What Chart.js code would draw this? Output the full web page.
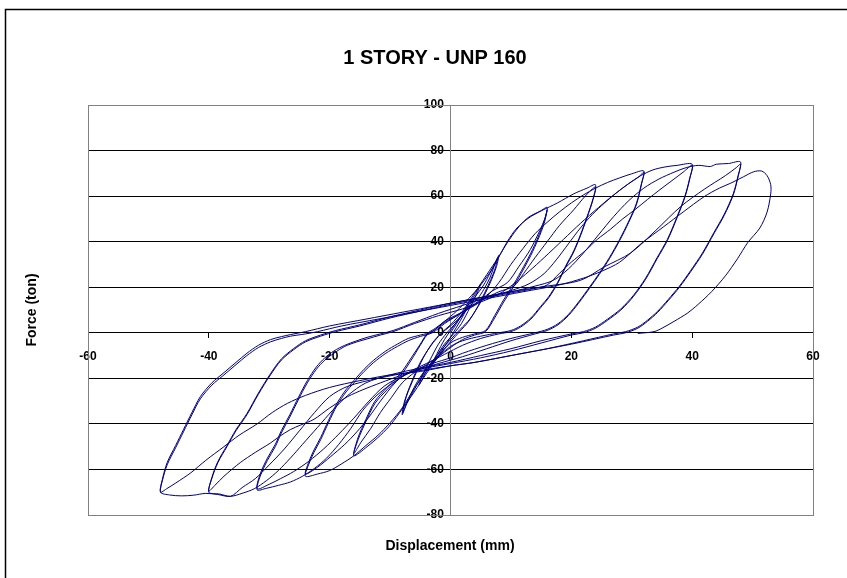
<!DOCTYPE html>
<html>
<head>
<meta charset="utf-8">
<script src="https://cdn.jsdelivr.net/npm/chart.js@4.4.1/dist/chart.umd.min.js"></script>
<style>
  body { margin: 0; background: #fff; }
  #chart { display: block; }
</style>
</head>
<body>
<canvas id="chart" width="847" height="578"></canvas>
<script>
// axis ticks
const xTicks = [-60, -40, -20, 0, 20, 40, 60];
const yTicks = [-80, -60, -40, -20, 0, 20, 40, 60, 80, 100];

// [displacement mm, force ton], one array per amplitude step
const loopsSmall = [
  [0,0],[1,4],[2,8.5],[3,12.5],[2.2,8],[1,2.5],[0,-2],[-1,-6],[-2,-10],[-3,-13.5],[-2.2,-9],[-1,-3],[0,1],
  [1.2,5.5],[2.5,10.5],[4,16.5],[5,21.5],[4.5,18],[3.2,11],[1.8,4],[0.5,-0.5],[-1,-5],[-2.5,-11],[-4,-17],
  [-5.2,-23],[-4.7,-19],[-3.4,-12],[-2,-5],[-0.6,0],[0.8,4]
];
const loops8 = [
  [2.5,9.5],[4,15.5],[5.5,21],[6.5,26],[7.4,30.5],[8,34],[7.6,29],[6.5,21.5],[5,13.5],[3.2,6],[1.6,1.5],[0,-3],
  [-1.5,-7.5],[-3,-12.5],[-4.5,-18],[-6,-25],[-7.2,-31],[-8,-36],[-7.6,-30],[-6.5,-22],[-5,-13],[-3.2,-5.5],[-1.6,-0.5],[0,3],
  [1.5,6.5],[3,11],[4.5,15],[5.5,19],[6.5,24],[7.2,29],[7.8,33],[7.3,27.5],[6,19.5],[4.5,11.5],[3,5],[1.5,0.5],[0,-4],
  [-1.5,-8.5],[-3,-13],[-4.5,-17.5],[-5.5,-21.5],[-6.5,-26.5],[-7.3,-31],[-7.9,-35],[-7.3,-28],[-6,-19.5],[-4.5,-11],[-3,-4.5],[-1.5,0],[0,3.5]
];
const loops16 = [
  [2,9.5],[4,17.5],[6,25.5],[8,33.5],[9.4,39.5],[11,45.5],[12.8,50.5],[14.9,53.5],[16,55],
  [15.5,49],[14.5,42],[13.3,35],[12.1,29],[10.5,21.5],[8.8,14.5],[7.3,7.5],[5.8,1],[4,-0.5],[2,-2],[0,-4.5],
  [-2,-10.5],[-4,-18],[-6,-26],[-8,-33.5],[-9.8,-40],[-11.6,-45],[-13.8,-50],[-16,-54],
  [-15.3,-47],[-14,-39],[-12.5,-31],[-10.5,-25],[-8.3,-19],[-6.5,-12],[-5,-5.5],[-3.9,-1],[-2.5,1.5],
  [-1,4.5],[1,7.5],[3,11],[5,14.5],[7,18.5],[9.4,22],[11.3,29],[13.2,36.5],[14.8,45],[15.6,50],[16,54],
  [15.5,48],[14.5,41],[13.3,34],[12.1,28],[10.5,20.5],[8.8,13.5],[7.3,6.5],[5.8,0.5],[4,-1],[2,-3],[0,-6.5],
  [-2,-10.5],[-4,-14],[-6,-17.5],[-8,-22],[-9.8,-28.5],[-11.6,-35],[-13.2,-42],[-14.8,-48],[-16,-53],
  [-15.3,-46],[-14,-38],[-12.5,-30],[-10.5,-24],[-8.3,-18],[-6.5,-11],[-5,-5],[-3.9,-0.5],[-2.5,2]
];
const loops24 = [
  [-1,5],[1,9.5],[3,15],[5,21],[7,28.5],[9.4,40],[11,46],[13,50.5],[15,53.5],[17.7,57],[20.4,61],[22.6,63.5],[24,65],
  [23.6,59],[22.6,51],[21.5,43],[20.4,36],[19,29],[17.7,22],[16.3,16],[14.9,11.5],[13.3,6.5],[11.6,3],[10,1],[8,0],
  [5,-1.5],[2,-3.5],[0,-6],[-2,-10.5],[-4,-17],[-6,-24.5],[-8,-33],[-10,-39.5],[-12,-45],[-14,-49.5],[-16,-54],
  [-18,-57.5],[-20,-60.5],[-22,-62],[-24,-63],
  [-23.5,-58],[-22.6,-52.5],[-21.5,-47],[-20.2,-39.5],[-18.8,-32],[-17.3,-26],[-16,-22],[-14.3,-17],[-12.7,-13],
  [-10.7,-9],[-8.8,-6],[-7,-3.5],[-5,-1.6],[-3,0],
  [-1,4],[2,9],[5,14],[8,18],[10.5,20.5],[12.1,26],[14,33],[16,40],[18,47],[20.4,54],[22.3,60],[24,64],
  [23.6,58.5],[22.6,50.5],[21.5,42.5],[20.4,35.5],[19,28.5],[17.7,21.5],[16.3,15.5],[14.9,11],[13.3,6],[11.6,2.5],[10,0.5],[8,-0.5],
  [5,-2.5],[2,-5.5],[-1,-9.5],[-4,-13.5],[-7,-17.5],[-9,-21.5],[-11.6,-30],[-13.5,-37],[-15.5,-43.5],[-17.5,-49],
  [-19.9,-54.5],[-22,-59],[-24,-62],
  [-23.5,-57],[-22.6,-51.5],[-21.5,-46],[-20.2,-38.5],[-18.8,-31],[-17.3,-25],[-16,-21],[-14.3,-16],[-12.7,-12],
  [-10.7,-8],[-8.8,-5],[-7,-2.5],[-5,-1],[-3,0.5]
];
const loops32 = [
  [-1,5],[1.5,8.5],[4,12],[6,16],[8,22],[10,30],[12,37],[14,43.5],[16,48.5],[18,53],[20,57],[22,60.5],[24,63.5],
  [26,66],[28,68],[30,69.8],[32,71],
  [31.6,65.5],[30.8,57],[29.5,49],[28,41],[26.3,33],[24.6,26],[23,20],[21.2,13.5],[19.5,8],[17.8,4],[16,1.5],[14,0],
  [10,-2.5],[6,-5.5],[2,-9],[0,-11],[-3,-13.5],[-6,-16.5],[-9,-21],[-12,-27],[-14.5,-34],[-16.5,-42],[-18.5,-49],
  [-20.5,-55],[-22.5,-59.5],[-24.5,-63],[-26.5,-65.5],[-28.5,-67],[-30.5,-68.3],[-32,-69],
  [-31.5,-63],[-30.3,-56],[-29,-50],[-28,-44],[-26.6,-37],[-25.2,-29.5],[-23.7,-22],[-22.2,-16],[-20.8,-12],
  [-19.3,-9],[-17.5,-6],[-15.5,-4],[-13.8,-2.7],[-11.6,-1],[-9.5,0.5],
  [-6,4],[-2,7.5],[2,10.5],[5,13.5],[8,17],[10.5,21.5],[13,27],[15.5,33],[18.7,41],[21.5,48],[24.5,55],[27,60.5],
  [29.5,65.5],[31.2,68.5],[32,70.5],
  [31.6,65],[30.8,56.5],[29.5,48.5],[28,40.5],[26.3,32.5],[24.6,25.5],[23,19.5],[21.2,13],[19.5,7.5],[17.8,3.5],[16,1],[14,-0.5],
  [10,-3.5],[6,-7],[2,-10.5],[-2,-13.5],[-5,-16],[-8,-19],[-11,-23.5],[-13.5,-30],[-16,-37.5],[-18.5,-44.5],[-21,-51],
  [-23.5,-56.5],[-26,-61],[-28.1,-64],[-30,-66.5],[-32,-68.5],
  [-31.5,-62],[-30.3,-55],[-29,-49],[-28,-43],[-26.6,-36],[-25.2,-28.5],[-23.7,-21],[-22.2,-15],[-20.8,-11],
  [-19.3,-8],[-17.5,-5.5],[-15.5,-3.5],[-13.8,-2],[-11.6,-0.5],[-9.5,1]
];
const loops40 = [
  [-6,4.5],[-2,8.5],[2,12],[6,15.5],[10,18.5],[13,21.5],[15.5,26],[17.5,32],[19.5,39],[21.5,46],[23.5,52],[25.5,57],
  [27.5,61.5],[29.5,65.5],[31.5,69],[33.5,71.5],[35.5,72.8],[37.5,73.5],[40,74],
  [39.6,68],[38.8,60],[37.5,51],[35.9,41],[34.2,33],[32.3,24],[30.3,16.5],[28.2,10.5],[26,6],[24,2.5],[22,0.5],[20,-0.5],
  [15,-3.5],[10,-7],[5,-10],[0,-13],[-5,-15.5],[-10,-18.5],[-14,-22],[-17,-27.5],[-19.5,-34],[-22,-41.5],[-24.5,-49],
  [-26.5,-55],[-28.5,-60.5],[-30.5,-65],[-32.5,-68.5],[-34.5,-70.5],[-36.4,-71.8],[-38.2,-70.8],[-40,-70],
  [-39.5,-64],[-38.5,-57],[-37,-50],[-35.5,-43],[-33.7,-36],[-31.8,-27],[-29.8,-18.5],[-28,-12],[-26,-7.5],[-24,-4],
  [-21.5,-1.5],[-19,0.5],
  [-15,3],[-10,6.5],[-5,9.5],[0,12.5],[5,15],[10,17.5],[14,19.5],[16,21],[18,26],[20,31],[22.3,36],[24.3,41],[26.5,45.5],
  [28.5,50],[30.5,54],[32.6,58.5],[34.5,62.5],[36.5,66.5],[38.5,70.5],[40,73.5],
  [39.6,67.5],[38.8,59.5],[37.5,50.5],[35.9,40.5],[34.2,32.5],[32.3,23.5],[30.3,16],[28.2,10],[26,5.5],[24,2],[22,0],[20,-1],
  [15,-4.5],[10,-8],[5,-11],[0,-13.5],[-5,-16],[-8,-18.5],[-11.6,-22],[-14.5,-25],[-17,-28],[-20,-33],[-22.6,-38],
  [-24.8,-40.5],[-26.5,-42.5],[-28.3,-45.5],[-29.8,-48.4],[-32.3,-52.5],[-34.8,-57],[-37.5,-63],[-39,-67],[-40,-69.5],
  [-39.5,-63.5],[-38.5,-56.5],[-37,-49.5],[-35.5,-42.5],[-33.7,-35.5],[-31.8,-26.5],[-29.8,-18],[-28,-11.5],[-26,-7],
  [-24,-3.5],[-21.5,-1],[-19,1]
];
const loops48 = [
  [-15,3.5],[-10,7],[-5,10],[0,13],[5,15.5],[10,18],[14,20.5],[17,23],[19.5,28],[22,35],[24.5,43],[27,51],[29.5,58],
  [32,63.5],[34.5,67.5],[37,70.5],[39,72.5],[41,73.5],[43,73],[44,74],[46,74.3],[48,75],
  [47.6,69],[46.8,61],[45.3,52],[43.6,44],[41.7,35],[39.8,27.5],[37.9,20.5],[36,14.5],[34.3,9.5],[32.6,5.5],[31,2.5],
  [29,0.5],[27,-0.5],
  [22,-3.5],[16,-7],[10,-10],[4,-13],[0,-14.5],[-6,-17],[-12,-20],[-17,-23.5],[-20,-28],[-22.5,-35],[-25,-43],
  [-27.5,-51],[-30,-58],[-32.3,-64],[-34.5,-68],[-36.4,-71.8],[-38.5,-71],[-40.5,-70.5],[-42.5,-71.3],[-44.5,-71.6],
  [-46.5,-71.2],[-48,-70],
  [-47.7,-64.5],[-46.9,-57],[-45.5,-49.5],[-44.2,-42.5],[-42.8,-35],[-41.4,-28],[-39.5,-22],[-37.5,-17.5],[-35.5,-13],
  [-33.7,-9],[-31.8,-5.5],[-29.8,-3],[-28,-1.7],[-26.5,-0.8],[-24,0.5],
  [-20,3],[-14,6],[-8,9],[-2,12],[4,15],[10,18],[16,20.5],[21.5,23],[25.5,29],[29.8,35],[34,45],[38.1,55.4],[42,63],
  [45.5,69],[47.3,72.5],[48,74],
  [47.6,68.5],[46.8,60.5],[45.3,51.5],[43.6,43.5],[41.7,34.5],[39.8,27],[37.9,20],[36,14],[34.3,9],[32.6,5],[31,2],
  [29,0],[27,-1],
  [20,-5],[12,-9],[4,-13],[0,-14.5],[-5,-17],[-10,-18.5],[-15,-21],[-20,-24],[-24,-27.5],[-27,-31],[-29.5,-35],[-32,-40],
  [-35,-45],[-37.5,-50],[-40.5,-56],[-43,-61.5],[-45.5,-66],[-47,-68.5],[-48,-70],
  [-47.7,-65],[-46.9,-58],[-45.5,-50.5],[-44.2,-43.5],[-42.8,-36],[-41.4,-29],[-39.5,-23],[-37.5,-18.5],[-35.5,-14],
  [-33.7,-10],[-31.8,-6.5],[-29.8,-4],[-28,-2.5],[-26.5,-1.5],[-24,-0.5],[-22,0.5]
];
const loopFinal = [
  [-18,3],[-12,6],[-6,9],[0,12],[6,15],[12,18],[18,21],[22,24],[25,27],[28,31],[31.5,39],[35.3,46.6],[38.5,53],
  [42,59.8],[44.5,63.5],[46.4,65.7],[48.5,68.5],[50.2,70.7],[51.5,71],[52.4,69],[53,65],[53,61],[52.4,53],[51.2,46],
  [49.2,39.6],[47.5,32.5],[45.5,25],[43.2,18],[41,12.5],[39.2,8.6],[37,5],[35,2],[33.7,0.5],[31,-0.3]
];

const history = [].concat(loopsSmall, loops8, loops16, loops24, loops32, loops40, loops48, loopFinal)
  .map((p) => ({ x: p[0], y: p[1] }));

const tickFont = { family: "'Liberation Sans', Arial, sans-serif", size: 12, weight: "bold" };

//frame, titles and plot border
const framePlugin = {
  id: "frame",
  beforeDraw(chart) {
    const c = chart.ctx;
    c.save();
    c.fillStyle = "#fff";
    c.fillRect(0, 0, chart.width, chart.height);
    c.strokeStyle = "#000";
    c.lineWidth = 1.5;
    c.beginPath();
    c.moveTo(5.5, chart.height);
    c.lineTo(5.5, 9.5);
    c.lineTo(chart.width, 9.5);
    c.stroke();
    c.fillStyle = "#000";
    c.textAlign = "center";
    c.textBaseline = "middle";
    c.font = "bold 20px 'Liberation Sans', Arial, sans-serif";
    c.fillText("1 STORY - UNP 160", 435, 58);
    c.font = "bold 14px 'Liberation Sans', Arial, sans-serif";
    c.fillText("Displacement (mm)", 450, 546);
    c.translate(32, 310);
    c.rotate(-Math.PI / 2);
    c.fillText("Force (ton)", 0, 0);
    c.restore();
  },
  beforeDatasetsDraw(chart) {
    const { left, top, right, bottom } = chart.chartArea;
    const c = chart.ctx;
    c.save();
    c.strokeStyle = "#808080";
    c.lineWidth = 1;
    c.strokeRect(Math.round(left) + 0.5, Math.round(top) + 0.5, Math.round(right - left), Math.round(bottom - top));
    c.restore();
  }
};

const ctx = document.getElementById("chart");
new Chart(ctx, {
  type: "scatter",
  data: {
    datasets: [
      {
        label: "Force",
        data: history,
        showLine: true,
        borderColor: "#000080",
        borderWidth: 1,
        pointRadius: 0,
        tension: 0.3,
        fill: false,
      },
    ],
  },
  options: {
    responsive: false,
    animation: false,
    layout: { padding: { left: 88, right: 34, top: 105, bottom: 63 } },
    plugins: {
      legend: { display: false },
      tooltip: { enabled: false },
    },
    scales: {
      x: {
        type: "linear",
        position: { y: 0 },
        min: -60,
        max: 60,
        afterBuildTicks: (scale) => {
          scale.ticks = xTicks.map((v) => ({ value: v }));
        },
        ticks: { color: "#000", font: tickFont, padding: 12, autoSkip: false, maxRotation: 0 },
        grid: { drawOnChartArea: false, drawTicks: true, tickLength: 5, tickColor: "#000" },
        border: { color: "#000", width: 1 },
      },
      y: {
        type: "linear",
        position: { x: 0 },
        min: -80,
        max: 100,
        afterBuildTicks: (scale) => {
          scale.ticks = yTicks.map((v) => ({ value: v }));
        },
        // trailing spaces keep the labels clear of the tick marks
        ticks: { color: "#000", font: tickFont, autoSkip: false, callback: (v) => v + "  " },
        grid: { color: "#000", lineWidth: 1, drawTicks: true, tickLength: 7, tickColor: "#000" },
        border: { color: "#808080", width: 1 },
      },
    },
  },
  plugins: [framePlugin],
});
</script>
</body>
</html>
